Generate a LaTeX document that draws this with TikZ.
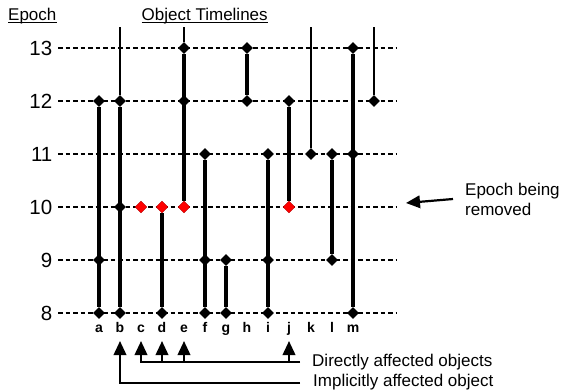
\documentclass[tikz,border=0pt]{standalone}
\usepackage{fontspec}
\setmainfont{Liberation Sans}
\usetikzlibrary{shapes.geometric,arrows.meta}

\begin{document}
\begin{tikzpicture}[x=1pt,y=-1pt,
  gridline/.style={line width=2.2pt,dash pattern=on 4.5pt off 3pt},
  life/.style={line width=3.2pt},
  ongoing/.style={line width=1.5pt},
  vtx/.style={shape=diamond,fill=black,inner sep=0pt,minimum width=12pt,minimum height=12pt},
  hit/.style={vtx,fill=red,draw=red!70!black,line width=0.4pt},
  epochnum/.style={inner sep=0pt,font=\fontsize{20.5}{24}\selectfont},
  hdr/.style={inner sep=0pt,font=\fontsize{17}{20}\selectfont},
  uline/.style={line width=1.4pt},
  objlabel/.style={inner sep=0pt,font=\bfseries\fontsize{14}{16}\selectfont},
  legend/.style={inner sep=0pt,font=\fontsize{17}{20}\selectfont},
  uparrow/.style={line width=2.2pt,-{Triangle[width=12.5pt,length=14pt]}},
]
\useasboundingbox (0,0) rectangle (565,389);

% headings
\node[hdr,anchor=base west] (hE) at (8,20) {Epoch};
\node[hdr,anchor=base west] (hO) at (141.5,20) {Object Timelines};
\draw[uline] ([yshift=-2.5pt]hE.base west) -- ([yshift=-2.5pt]hE.base east);
\draw[uline] ([yshift=-2.5pt]hO.base west) -- ([yshift=-2.5pt]hO.base east);

% epoch rows
\foreach \ep/\yy in {13/48,12/101,11/154,10/207,9/260,8/313}{
  \node[epochnum,anchor=east] (ep\ep) at (52.5,\yy) {\ep};
  \coordinate (gr\ep) at (397,\yy);
  \draw[gridline] ([xshift=5.5pt]ep\ep.east) -- (gr\ep);
}

% open ends of timelines that continue past epoch 13
\foreach \nm/\xx in {btop/120,etop/184,ktop/311,ntop/374}
  \coordinate (\nm) at (\xx,27);

% version points
\foreach \nm/\xx/\yy in {a12/99/101,a9/99/260,a8/99/313,
    b12/120/101,b10/120/207,b8/120/313,
    d8/162/313,
    e13/184/48,e12/184/101,
    f11/205/154,f9/205/260,f8/205/313,
    g9/226/260,g8/226/313,
    h13/247/48,h12/247/101,
    i11/268/154,i9/268/260,i8/268/313,
    j12/289/101,
    k11/311/154,
    l11/332/154,l9/332/260,
    m13/353/48,m11/353/154,m8/353/313,
    n12/374/101}
  \node[vtx] (\nm) at (\xx,\yy) {};
\foreach \nm/\xx in {c10/141,d10/162,e10/184,j10/289}
  \node[hit] (\nm) at (\xx,207) {};

% timelines
\draw[life] (a12) -- (a8);
\draw[ongoing] (btop) -- (b12);
\draw[life] (b12) -- (b8);
\draw[life] (d10) -- (d8);
\draw[ongoing] (etop) -- (e13);
\draw[life] (e13) -- (e10);
\draw[life] (f11) -- (f8);
\draw[life] (g9) -- (g8);
\draw[life] (h13) -- (h12);
\draw[life] (i11) -- (i8);
\draw[life] (j12) -- (j10);
\draw[ongoing] (ktop) -- (k11);
\draw[life] (l11) -- (l9);
\draw[life] (m13) -- (m8);
\draw[ongoing] (ntop) -- (n12);

% object names
\foreach \c/\xx in {a/99,b/120,c/141,d/162,e/184,f/205,g/226,
    h/247,i/268,j/289,k/311,l/332,m/353}
  \node[objlabel,anchor=base] (lab\c) at (\xx,332.5) {\c};

% legend of affected objects
\foreach \c/\xx in {b/120,c/141,d/162,e/184,j/289}
  \coordinate (t\c) at (\xx,341);
\coordinate (dR) at (300,362);
\coordinate (iR) at (300,383);
\draw[uparrow] (dR) -| (tc);
\draw[uparrow] (td |- dR) -- (td);
\draw[uparrow] (te |- dR) -- (te);
\draw[uparrow] (tj |- dR) -- (tj);
\draw[uparrow] (iR) -| (tb);
\node[legend,anchor=base west] (dtxt) at (312,366) {Directly affected objects};
\node[legend,anchor=base west] (itxt) at (313,386) {Implicitly affected object};

% removed epoch pointer
\node[legend,anchor=north west,align=left] (rm) at (465,182.5) {Epoch being\\removed};
\coordinate (rmtail) at (453,199);
\coordinate (rmtip) at (406,203);
\draw[uparrow] (rmtail) -- (rmtip);
\end{tikzpicture}
\end{document}
